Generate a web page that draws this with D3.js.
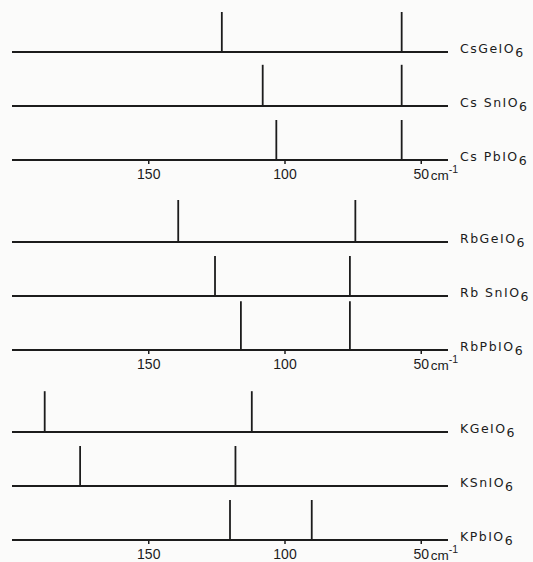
<!DOCTYPE html>
<html>
<head>
<meta charset="utf-8">
<script src="https://cdn.jsdelivr.net/npm/d3@7"></script>
<style>
  body { margin: 0; background: #fbfbfa; }
  svg { display: block; }
</style>
</head>
<body>
<div id="chart"></div>
<script>
// cations, one block of three spectra each
var cations = ['Cs', 'Rb', 'K']
var metals = ['Ge', 'Sn', 'Pb']

// labels (subscript 6 added when drawn)
var labels = [
  ['CsGeIO', 'Cs SnIO', 'Cs PbIO'],
  ['RbGeIO', 'Rb SnIO', 'RbPbIO'],
  ['KGeIO', 'KSnIO', 'KPbIO']
]

// line positions in cm-1
var peaks = [
  [[123, 57], [108, 57], [103, 57]],
  [[139, 74], [125.5, 76], [116, 76]],
  [[188, 112], [175, 118], [120, 90]]
]

// relative line heights
var heights = [
  [[1, 1], [1.03, 1.03], [1, 1]],
  [[1.05, 1.05], [1, 1], [1.22, 1.22]],
  [[1.02, 1.02], [1, 1], [1, 1]]
]

var ticks = [150, 100, 50]

var width = 533
var height = 562

var svg = d3.select('#chart').append('svg')
  .attr('width', width)
  .attr('height', height)

svg.append('rect')
  .attr('width', width)
  .attr('height', height)
  .attr('fill', '#fbfbfa')

var x = d3.scaleLinear()
  .domain([200, 40])
  .range([12, 448])

var groupY = d3.scalePoint()
  .domain(cations)
  .range([52, 432])

var rowY = d3.scalePoint()
  .domain(metals)
  .range([0, 108])

var h = d3.scaleLinear()
  .domain([0, 1])
  .range([0, 40])

var ink = '#1c1c1c'

cations.forEach(function (c, gi) {
  var g = svg.append('g')
    .attr('transform', 'translate(0,' + groupY(c) + ')')

  metals.forEach(function (m, ri) {
    var y0 = rowY(m)

    // baseline
    g.append('line')
      .attr('x1', x.range()[0])
      .attr('x2', x.range()[1])
      .attr('y1', y0)
      .attr('y2', y0)
      .attr('stroke', ink)
      .attr('stroke-width', 2)

    // sticks
    g.selectAll(null)
      .data(peaks[gi][ri])
      .enter().append('line')
      .attr('x1', function (d) { return x(d) })
      .attr('x2', function (d) { return x(d) })
      .attr('y1', y0)
      .attr('y2', function (d, i) { return y0 - h(heights[gi][ri][i]) })
      .attr('stroke', ink)
      .attr('stroke-width', 1.8)

    var t = g.append('text')
      .attr('x', 460)
      .attr('y', y0 + 1)
      .attr('font-family', 'DejaVu Sans')
      .attr('font-size', 12.5)
      .attr('letter-spacing', 1.5)
      .attr('fill', ink)
    t.append('tspan').text(labels[gi][ri])
    t.append('tspan').attr('dy', 4).text('6')
  })

  // wavenumber axis under the last spectrum
  var axis = d3.axisBottom(x)
    .tickValues(ticks)
    .tickSize(4)
    .tickPadding(5)
    .tickFormat(d3.format('d'))

  var ax = g.append('g')
    .attr('transform', 'translate(0,' + rowY(metals[2]) + ')')
    .call(axis)

  ax.select('.domain').remove()
  ax.selectAll('.tick line')
    .attr('stroke', ink)
    .attr('stroke-width', 1.5)
  ax.selectAll('.tick text')
    .attr('font-family', 'Liberation Sans')
    .attr('font-size', 14)
    .attr('fill', ink)

  var unit = ax.append('text')
    .attr('x', x(50) + 10)
    .attr('y', 20)
    .attr('font-family', 'Liberation Sans')
    .attr('font-size', 13.5)
    .attr('fill', ink)
    .attr('text-anchor', 'start')
  unit.append('tspan').text('cm')
  unit.append('tspan').attr('dy', -7).attr('font-size', 10.5).text('-1')
})
</script>
</body>
</html>
